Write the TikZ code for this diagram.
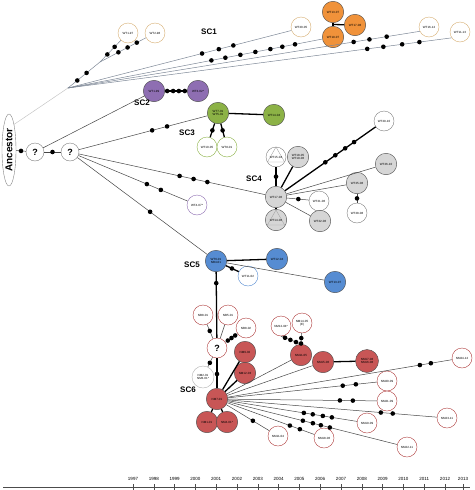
\documentclass[tikz,border=0pt]{standalone}
\usepackage{fontspec}
\setmainfont{Liberation Sans}
\usetikzlibrary{shapes.geometric, calc}
\definecolor{scorange}{RGB}{240,146,58}
\definecolor{scpurple}{RGB}{142,110,178}
\definecolor{scgreen}{RGB}{140,178,70}
\definecolor{scgrey}{RGB}{214,214,214}
\definecolor{scblue}{RGB}{86,140,210}
\definecolor{scred}{RGB}{200,86,86}
\definecolor{tanline}{RGB}{215,175,115}
\definecolor{redline}{RGB}{175,60,60}
\definecolor{fanline}{RGB}{125,135,150}
\tikzset{
strain/.style={circle, draw=gray, fill=white, minimum size=20pt, inner sep=0pt, align=center, font=\fontsize{3}{3.4}\selectfont}, % one isolate
filled/.style={strain, minimum size=21.5pt, draw=gray!60!black}, % coloured isolate
unk/.style={circle, draw=gray, minimum size=18pt, inner sep=0pt, font=\fontsize{9}{9}\selectfont\bfseries}, % inferred ancestor
mut/.style={circle, fill=black, minimum size=4.6pt, inner sep=0pt}, % one mutation
link/.style={draw=gray!55!black, line width=0.5pt}, % thin branch
fan/.style={draw=fanline, line width=0.5pt}, % SC1 branches
bond/.style={draw=black, line width=1.3pt}, % thick branch
clade/.style={font=\fontsize{8}{9}\selectfont\bfseries}, % SC labels
tri/.style={path picture={\draw[gray!70] ($(path picture bounding box.center)+(0,-10)$) -- ++(-8.6,15) -- ++(17.2,0) -- cycle;}}, % triangle mark
yearlbl/.style={font=\fontsize{4.5}{5}\selectfont, inner sep=0pt}, % timeline years
}
\begin{document}
\begin{tikzpicture}[x=1pt, y=-1pt]
\useasboundingbox (0,0) rectangle (474,490);

% root
\node[ellipse, draw=gray, rotate=90, minimum width=72pt, minimum height=14pt, inner sep=0pt, font=\fontsize{10}{10}\selectfont\bfseries] (anc) at (9,150) {Ancestor};
\node[unk] (q1) at (35,152) {?};
\node[unk] (q2) at (70,152) {?};
\coordinate (hub) at (68,88);
\coordinate (fork) at (100,62);
\draw[link] (anc) -- node[mut]{} (q1);
\draw[link] (q1) -- node[mut]{} (q2);
\draw[fan, gray!45] (anc.south east) -- (hub);

% SC1
\node[strain, draw=tanline] (w1) at (128,33) {WT1-97};
\node[strain, draw=tanline] (w2) at (155,33) {WT2-98};
\node[strain, draw=tanline] (w20) at (301,27) {WT20-05};
\node[filled, fill=scorange] (o19) at (333,37) {WT19-07};
\node[filled, fill=scorange] (o13) at (333,12) {WT13-07};
\node[filled, fill=scorange] (o17) at (355,25) {WT17-08};
\node[strain, draw=tanline] (w16) at (429,27) {WT16-12};
\node[strain, draw=tanline] (w11) at (460,32) {WT11-13};
\node[clade] (sc1) at (209,32) {SC1};
\draw[fan] (hub) -- node[mut, pos=.29]{} node[mut, pos=.58]{} (fork);
\draw[fan] (fork) -- node[mut, pos=.35]{} node[mut, pos=.7]{} (w1);
\draw[fan] (fork) -- node[mut, pos=.4]{} node[mut, pos=.6]{} node[mut, pos=.8]{} (w2);
\draw[fan] (hub) -- node[mut, pos=.6]{} node[mut, pos=.675]{} node[mut, pos=.74]{} (w20.200);
\draw[fan] (hub) -- node[mut, pos=.564]{} node[mut, pos=.619]{} node[mut, pos=.678]{} node[mut, pos=.737]{} node[mut, pos=.796]{} node[mut, pos=.843]{} node[mut, pos=.893]{} (o19);
\draw[fan] (hub) -- node[mut, pos=.812]{} node[mut, pos=.857]{} node[mut, pos=.906]{} (w16.205);
\draw[fan] (hub) -- node[mut, pos=.78]{} node[mut, pos=.822]{} node[mut, pos=.871]{} node[mut, pos=.916]{} (w11.215);
\draw[bond] (o19) -- (o13);
\draw[bond] ($(o19)!.5!(o13)$) -- (o17);

% SC2
\node[filled, fill=scpurple] (p1) at (154,91) {WT1-99};
\node[filled, fill=scpurple] (p3) at (198,91) {WT3-02*};
\node[clade] (sc2) at (142,103) {SC2};
\draw[link] (q1) -- (p1);
\draw[bond] (p1) -- node[mut, pos=.1]{} node[mut, pos=.37]{} node[mut, pos=.63]{} node[mut, pos=.9]{} (p3);

% SC3
\node[filled, fill=scgreen] (g7) at (218,113) {WT7-01\\WT5-01};
\node[filled, fill=scgreen] (g14) at (274,115) {WT14-04};
\node[strain, draw=scgreen] (g10) at (207,147) {WT10-05};
\node[strain, draw=scgreen] (g8) at (227,147) {WT8-01};
\node[clade] (sc3) at (187,133) {SC3};
\draw[link] (q2) -- node[mut, pos=.57]{} node[mut, pos=.686]{} (g7);
\draw[bond] (g7) -- (g14);
\draw[bond] (g7) -- node[mut]{} (g10);
\draw[bond] (g7) -- node[mut]{} (g8);

% SC4
\node[filled, fill=scgrey] (s17) at (276,197) {WT17-06};
\node[strain, tri] (s15) at (276,157) {WT15-04};
\node[filled, fill=scgrey] (s18) at (298,157) {WT18-05\\WT19-06};
\node[filled, fill=scgrey, tri] (s14) at (276,220) {WT14-06};
\node[strain] (s29) at (384,121) {WT29-10};
\node[filled, fill=scgrey] (s26) at (386,164) {WT26-10};
\node[filled, fill=scgrey] (s25) at (357,183) {WT25-08};
\node[strain] (s28) at (357,213) {WT28-08};
\node[strain] (s21) at (319,201) {WT21-06};
\node[filled, fill=scgrey] (s22) at (320,221) {WT22-06};
\node[strain, draw=scpurple] (w4) at (197,205) {WT4-07*};
\node[clade] (sc4) at (254,179) {SC4};
\draw[link] (q2) -- node[mut, pos=.54]{} node[mut, pos=.615]{} node[mut, pos=.689]{} (s17);
\draw[link] (q2) -- node[mut, pos=.627]{} node[mut, pos=.755]{} (w4);
\draw[bond] (s17) -- node[mut]{} (s15);
\draw[bond] (s17) -- (s18);
\draw[bond] (s17) -- (s14);
\draw[bond] (s17) -- node[mut, pos=.445]{} node[mut, pos=.555]{} node[mut, pos=.664]{} node[mut, pos=.762]{} (s29);
\draw[link] (s17) -- (s26);
\draw[link] (s17) -- (s25);
\draw[link] (s25) -- node[mut]{} (s28);
\draw[link] (s17) -- node[mut, pos=.52]{} (s21);
\draw[link] (s17) -- (s22);

% SC5
\node[filled, fill=scblue] (b6) at (216,261) {WT6-01\\NB4-01};
\node[filled, fill=scblue] (b12) at (277,259) {WT12-04};
\node[strain, draw=scblue] (b11) at (248,276) {WT11-02};
\node[filled, fill=scblue] (b13) at (335,282) {WT13-07};
\node[clade] (sc5) at (192,265) {SC5};
\draw[link] (q2) -- node[mut, pos=.56]{} (b6);
\draw[bond] (b6) -- (b12);
\draw[bond] (b6) -- node[mut, pos=.47]{} (b11);
\draw[link] (b6) -- (b13);

% SC6
\node[unk, draw=redline, minimum size=20pt] (q3) at (217,348) {?};
\node[strain, draw=redline] (n81) at (203,315) {NB8-01};
\node[strain, draw=redline] (n51) at (228,315) {NB5-01};
\node[strain, draw=redline] (n82) at (246,328) {NB8-02};
\node[strain, draw=gray!60, minimum size=22pt] (m2) at (203,377) {NM2-01\\NM3-01*};
\node[filled, fill=scred] (m7) at (217,399) {NM7-01};
\node[filled, fill=scred] (m9) at (245,352) {NM9-02};
\node[filled, fill=scred] (m12) at (245,373) {NM12-03};
\node[filled, fill=scred] (m1) at (207,422) {NM1-01};
\node[filled, fill=scred] (m4) at (227,422) {NM4-01*};
\node[filled, fill=scred] (m11) at (301,355) {NM11-05};
\node[strain, draw=redline] (m124) at (281,326) {NM12-04*};
\node[strain, draw=redline] (m14) at (302,323) {NM14-05\\(E)};
\node[filled, fill=scred] (m15) at (323,362) {NM15-06};
\node[filled, fill=scred, minimum size=23pt] (m17) at (367,361) {NM17-08\\NM16-08};
\node[strain, draw=redline] (m24) at (462,358) {NM24-12};
\node[strain, draw=redline] (m20) at (387,381) {NM20-09};
\node[strain, draw=redline] (m21) at (387,401) {NM21-09};
\node[strain, draw=redline] (m23) at (447,418) {NM23-11};
\node[strain, draw=redline] (m19) at (367,423) {NM19-09};
\node[strain, draw=redline] (m22) at (407,447) {NM22-11};
\node[strain, draw=redline] (m18) at (324,438) {NM18-06};
\node[strain, draw=redline] (m114) at (278,436) {NM11-04};
\node[clade] (sc6) at (188,390) {SC6};
\draw[bond] (b6) -- node[mut, pos=.17]{} (q3);
\draw[link] (q3) -- node[mut, pos=.54]{} (n81);
\draw[link] (q3) -- (n51);
\draw[link] (q3) -- node[mut, pos=.2]{} node[mut, pos=.5]{} node[mut, pos=.8]{} (n82);
\draw[link] (q3) -- node[mut, pos=.58]{} (m2);
\draw[bond] (q3) -- node[mut, pos=.53]{} (m7);
\draw[bond] (m7) -- (m9);
\draw[bond] (m7) -- (m12);
\draw[bond] (m7) -- (m1);
\draw[bond] (m7) -- (m4);
\draw[link] (m7) -- (m11);
\draw[link] (m124.south) -- node[mut, pos=.2]{} node[mut, pos=.47]{} node[mut, pos=.75]{} (m11.north);
\draw[link] (m14) -- node[mut, pos=.45]{} node[mut, pos=.95]{} (m11.north);
\draw[link] (m7) -- (m15);
\draw[bond] (m15) -- (m17);
\draw[link] (m7) -- node[mut, pos=.857]{} node[mut, pos=.906]{} (m24);
\draw[link] (m7) -- node[mut, pos=.771]{} node[mut, pos=.859]{} (m20);
\draw[link] (m7) -- node[mut, pos=.752]{} node[mut, pos=.839]{} (m21);
\draw[link] (m7) -- node[mut, pos=.732]{} node[mut, pos=.789]{} (m23);
\draw[link] (m7) -- node[mut, pos=.589]{} node[mut, pos=.658]{} node[mut, pos=.736]{} node[mut, pos=.806]{} (m19);
\draw[link] (m7) -- node[mut, pos=.444]{} node[mut, pos=.503]{} node[mut, pos=.55]{} node[mut, pos=.603]{} (m22);
\draw[link] (m7) -- node[mut, pos=.718]{} node[mut, pos=.833]{} (m18);
\draw[link] (m7) -- node[mut, pos=.618]{} (m114);

% timeline
\coordinate (ax0) at (3,487);
\coordinate (ax1) at (470,487);
\draw[gray!60!black, line width=0.5pt] (ax0) -- (ax1);
\foreach \yr [count=\i from 0] in {1997,...,2012} {
  \node[yearlbl] (y\yr) at ({133+20.8*\i},479) {\yr};
  \draw[gray!60!black, line width=0.4pt] ({133+20.8*\i},484) -- ({133+20.8*\i},490);
}
\node[yearlbl] (y2013) at (463,479) {2013};
\draw[gray!60!black, line width=0.4pt] (463,484) -- (463,490);
\end{tikzpicture}
\end{document}
